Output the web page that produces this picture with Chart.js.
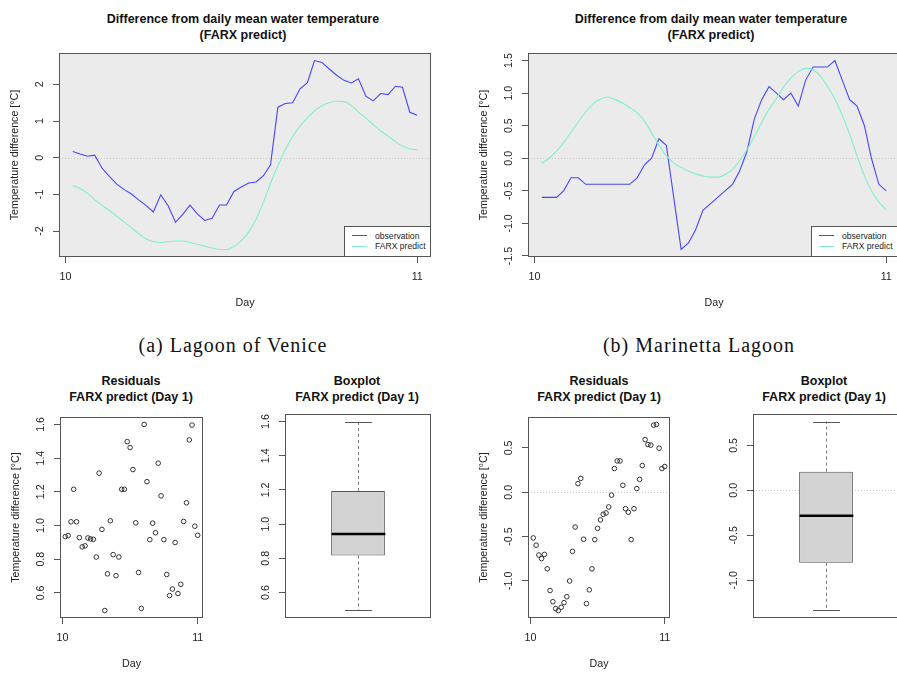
<!DOCTYPE html>
<html lang="en">

<head>
    <meta charset="UTF-8">
    <title>FARX predict - difference from daily mean water temperature</title>
    <script src="https://cdn.jsdelivr.net/npm/chart.js"></script>
    <style>
        body {
            margin: 0;
            background: #fff;
            font-family: 'Liberation Sans', Arial, sans-serif;
        }

        #page {
            position: relative;
            width: 897px;
            height: 673px;
            overflow: hidden;
        }

        canvas {
            position: absolute;
        }

        .title {
            position: absolute;
            width: 300px;
            text-align: center;
            font-weight: bold;
            font-size: 12.5px;
            line-height: 15.6px;
            color: #111;
        }

        .caption {
            position: absolute;
            width: 300px;
            text-align: center;
            font-family: 'Liberation Serif', serif;
            font-size: 20px;
            letter-spacing: 1px;
            line-height: 24px;
            color: #111;
        }

        .legend {
            position: absolute;
            box-sizing: border-box;
            background: #fff;
            border-left: 1px solid #555;
            border-top: 1px solid #555;
            padding: 3.5px 0 0 7px;
            font-size: 8.6px;
            color: #222;
        }

        .key {
            display: flex;
            align-items: center;
            height: 10.5px;
            white-space: nowrap;
        }

        .swatch {
            display: inline-block;
            width: 15px;
            height: 0;
            border-top: 1.1px solid;
            margin-right: 8px;
        }
    </style>
</head>

<body>
    <div id="page">
        <div class="title" style="left:93px; top:12px">Difference from daily mean water temperature<br>(FARX predict)</div>
        <div class="title" style="left:561px; top:12px">Difference from daily mean water temperature<br>(FARX predict)</div>

        <canvas id="veniceLine" width="441" height="266" style="left:0; top:51px"></canvas>
        <canvas id="marinettaLine" width="441" height="266" style="left:469px; top:51px"></canvas>

        <div class="legend" style="left:344px; top:226px; width:86px; height:30px">
            <div class="key"><span class="swatch" style="border-color:#4646ff"></span>observation</div>
            <div class="key"><span class="swatch" style="border-color:#7ff0cc"></span>FARX predict</div>
        </div>
        <div class="legend" style="left:811px; top:226px; width:90px; height:30px">
            <div class="key"><span class="swatch" style="border-color:#4646ff"></span>observation</div>
            <div class="key"><span class="swatch" style="border-color:#7ff0cc"></span>FARX predict</div>
        </div>

        <div class="caption" style="left:83px; top:333px">(a) Lagoon of Venice</div>
        <div class="caption" style="left:549px; top:333px">(b) Marinetta Lagoon</div>

        <div class="title" style="left:-19px; top:374px">Residuals<br>FARX predict (Day 1)</div>
        <div class="title" style="left:207px; top:374px">Boxplot<br>FARX predict (Day 1)</div>
        <div class="title" style="left:449px; top:374px">Residuals<br>FARX predict (Day 1)</div>
        <div class="title" style="left:674px; top:374px">Boxplot<br>FARX predict (Day 1)</div>

        <canvas id="veniceResid" width="212" height="266" style="left:1px; top:412px"></canvas>
        <canvas id="veniceBox" width="215" height="208" style="left:226px; top:412px"></canvas>
        <canvas id="marinettaResid" width="211" height="266" style="left:469px; top:412px"></canvas>
        <canvas id="marinettaBox" width="215" height="208" style="left:694px; top:412px"></canvas>
    </div>

    <script>
        // time of day (half-hour steps of day 10)
        const dayTimes = [10.021, 10.042, 10.063, 10.083, 10.104, 10.125, 10.146, 10.167, 10.188, 10.208,
            10.229, 10.25, 10.271, 10.292, 10.313, 10.333, 10.354, 10.375, 10.396, 10.417,
            10.438, 10.458, 10.479, 10.5, 10.521, 10.542, 10.563, 10.583, 10.604, 10.625,
            10.646, 10.667, 10.688, 10.708, 10.729, 10.75, 10.771, 10.792, 10.813, 10.833,
            10.854, 10.875, 10.896, 10.917, 10.938, 10.958, 10.979, 11.0];
        const dayTicks = [10, 11];

        // Lagoon of Venice
        const veniceObs = [0.17, 0.10, 0.04, 0.07, -0.28, -0.51, -0.72, -0.87, -0.99, -1.15,
            -1.30, -1.48, -1.01, -1.31, -1.76, -1.55, -1.29, -1.53, -1.71, -1.65,
            -1.29, -1.29, -0.92, -0.80, -0.69, -0.66, -0.49, -0.19, 1.38, 1.48,
            1.50, 1.88, 2.05, 2.65, 2.60, 2.42, 2.25, 2.11, 2.04, 2.15,
            1.68, 1.55, 1.75, 1.72, 1.95, 1.92, 1.24, 1.16];
        const veniceFarx = [-0.76, -0.84, -0.97, -1.14, -1.30, -1.44, -1.59, -1.75, -1.91, -2.07,
            -2.21, -2.29, -2.31, -2.29, -2.27, -2.27, -2.31, -2.36, -2.41, -2.46,
            -2.50, -2.50, -2.42, -2.26, -2.02, -1.68, -1.21, -0.70, -0.22, 0.22,
            0.58, 0.87, 1.09, 1.28, 1.42, 1.50, 1.54, 1.53, 1.42, 1.25,
            1.08, 0.90, 0.73, 0.59, 0.44, 0.32, 0.24, 0.22];
        const veniceResid = [0.934, 0.940, 1.022, 1.215, 1.022, 0.928, 0.873, 0.879, 0.926, 0.920,
            0.918, 0.813, 1.311, 0.977, 0.495, 0.713, 1.028, 0.827, 0.702, 0.813,
            1.215, 1.215, 1.498, 1.463, 1.332, 1.016, 0.721, 0.508, 1.600, 1.260,
            0.916, 1.014, 0.957, 1.370, 1.176, 0.916, 0.709, 0.584, 0.623, 0.899,
            0.596, 0.651, 1.024, 1.135, 1.508, 1.596, 0.996, 0.942];
        // min, lower hinge, median, upper hinge, max
        const veniceBox = [0.495, 0.817, 0.942, 1.194, 1.600];
        const veniceLineTicks = [-2, -1, 0, 1, 2];
        const veniceResidTicks = [0.6, 0.8, 1.0, 1.2, 1.4, 1.6];

        // Marinetta Lagoon
        const marinettaObs = [-0.60, -0.60, -0.60, -0.50, -0.30, -0.30, -0.40, -0.40, -0.40, -0.40,
            -0.40, -0.40, -0.40, -0.30, -0.10, 0.00, 0.30, 0.20, -0.60, -1.40,
            -1.30, -1.10, -0.80, -0.70, -0.60, -0.50, -0.40, -0.20, 0.10, 0.60,
            0.90, 1.10, 1.00, 0.90, 1.00, 0.80, 1.20, 1.40, 1.40, 1.40,
            1.50, 1.20, 0.90, 0.80, 0.50, 0.00, -0.40, -0.50];
        const marinettaFarx = [-0.08, 0.00, 0.11, 0.24, 0.40, 0.56, 0.71, 0.84, 0.91, 0.94,
            0.90, 0.85, 0.78, 0.70, 0.57, 0.39, 0.20, 0.04, -0.07, -0.14,
            -0.20, -0.24, -0.27, -0.29, -0.29, -0.25, -0.17, -0.04, 0.13, 0.33,
            0.55, 0.75, 0.92, 1.09, 1.23, 1.33, 1.38, 1.36, 1.26, 1.10,
            0.91, 0.66, 0.37, 0.04, -0.27, -0.50, -0.67, -0.79];
        const marinettaResid = [-0.516, -0.598, -0.709, -0.750, -0.702, -0.865, -1.110, -1.236, -1.314, -1.336,
            -1.299, -1.247, -1.180, -1.002, -0.668, -0.393, 0.097, 0.156, -0.531, -1.258,
            -1.102, -0.865, -0.535, -0.408, -0.312, -0.249, -0.234, -0.167, -0.033, 0.267,
            0.353, 0.353, 0.078, -0.186, -0.226, -0.535, -0.186, 0.041, 0.145, 0.301,
            0.594, 0.538, 0.531, 0.757, 0.765, 0.497, 0.267, 0.290];
        const marinettaBox = [-1.336, -0.806, -0.282, 0.208, 0.765];
        const marinettaLineTicks = [-1.5, -1.0, -0.5, 0, 0.5, 1.0, 1.5];
        const marinettaResidTicks = [-1.0, -0.5, 0, 0.5];

        const OBS_COLOR = '#4646ff';
        const FARX_COLOR = '#7ff0cc';
        const FONT = "'Liberation Sans', Arial, sans-serif";

        Chart.defaults.font.family = FONT;
        Chart.defaults.font.size = 10.7;
        Chart.defaults.color = '#222';

        // R style axis range: data range plus 4% each side
        function rRange(values) {
            const lo = Math.min(...values), hi = Math.max(...values);
            const pad = (hi - lo) * 0.04;
            return [lo - pad, hi + pad];
        }

        // panel background, dotted zero line, box and rotated y tick labels
        const rPlot = {
            id: 'rPlot',
            beforeDraw(chart, args, opts) {
                if (!opts.fill) return;
                const a = chart.chartArea, ctx = chart.ctx;
                ctx.save();
                ctx.fillStyle = opts.fill;
                ctx.fillRect(a.left, a.top, a.right - a.left, a.bottom - a.top);
                ctx.restore();
            },
            beforeDatasetsDraw(chart, args, opts) {
                if (!opts.zeroLine) return;
                const a = chart.chartArea, ctx = chart.ctx;
                const y = Math.round(chart.scales.y.getPixelForValue(0)) + 0.5;
                ctx.save();
                ctx.strokeStyle = '#c8c8c8';
                ctx.lineWidth = 1;
                ctx.setLineDash([1, 2]);
                ctx.beginPath();
                ctx.moveTo(a.left, y);
                ctx.lineTo(a.right, y);
                ctx.stroke();
                ctx.restore();
            },
            afterDraw(chart, args, opts) {
                if (opts.digits === undefined) return;
                const a = chart.chartArea, ctx = chart.ctx, ys = chart.scales.y;
                ctx.save();
                ctx.strokeStyle = '#555';
                ctx.lineWidth = 1;
                ctx.strokeRect(Math.round(a.left) + 0.5, Math.round(a.top) + 0.5,
                    Math.round(a.right - a.left) - 1, Math.round(a.bottom - a.top) - 1);
                ctx.fillStyle = '#222';
                ctx.font = '10.7px ' + FONT;
                ctx.textAlign = 'center';
                ctx.textBaseline = 'middle';
                ys.ticks.forEach(t => {
                    ctx.save();
                    ctx.translate(a.left - 18.5, ys.getPixelForValue(t.value));
                    ctx.rotate(-Math.PI / 2);
                    ctx.fillText(t.value.toFixed(opts.digits), 0, 0);
                    ctx.restore();
                });
                ctx.restore();
            }
        };

        // median line, whiskers and staples on top of the floating bar
        const boxWhiskers = {
            id: 'boxWhiskers',
            afterDatasetsDraw(chart, args, opts) {
                if (!opts.stats) return;
                const [lo, q1, med, q3, hi] = opts.stats;
                const bar = chart.getDatasetMeta(0).data[0];
                const ys = chart.scales.y, ctx = chart.ctx;
                const x = Math.round(bar.x) + 0.5, half = bar.width / 2;
                const line = (x1, y1, x2, y2) => {
                    ctx.beginPath();
                    ctx.moveTo(x1, y1);
                    ctx.lineTo(x2, y2);
                    ctx.stroke();
                };
                ctx.save();
                ctx.lineWidth = 1;
                ctx.strokeStyle = '#777';
                ctx.setLineDash([3, 3]);
                line(x, ys.getPixelForValue(q3), x, ys.getPixelForValue(hi));
                line(x, ys.getPixelForValue(q1), x, ys.getPixelForValue(lo));
                ctx.setLineDash([]);
                ctx.strokeStyle = '#555';
                const yHi = Math.round(ys.getPixelForValue(hi)) + 0.5;
                const yLo = Math.round(ys.getPixelForValue(lo)) + 0.5;
                line(x - half / 2, yHi, x + half / 2, yHi);
                line(x - half / 2, yLo, x + half / 2, yLo);
                ctx.strokeStyle = '#000';
                ctx.lineWidth = 2.6;
                const yMed = ys.getPixelForValue(med);
                line(x - half, yMed, x + half, yMed);
                ctx.restore();
            }
        };

        Chart.register(rPlot, boxWhiskers);

        function yAxis(range, tickValues, withTitle) {
            return {
                type: 'linear',
                min: range[0],
                max: range[1],
                afterBuildTicks: s => { s.ticks = tickValues.map(v => ({ value: v })); },
                afterFit: s => { s.width = 59; },
                grid: { drawOnChartArea: false, drawTicks: true, tickLength: 6, color: '#555' },
                border: { display: false },
                ticks: { display: false },
                title: {
                    display: withTitle,
                    text: 'Temperature difference [°C]',
                    color: '#222',
                    padding: { top: 8.6, bottom: 0 }
                }
            };
        }

        function dayAxis() {
            const r = rRange(dayTimes);
            return {
                type: 'linear',
                min: r[0],
                max: r[1],
                afterBuildTicks: s => { s.ticks = dayTicks.map(v => ({ value: v })); },
                afterFit: s => { s.height = 60; },
                grid: { drawOnChartArea: false, drawTicks: true, tickLength: 6, color: '#555' },
                border: { display: false },
                ticks: { padding: 7.5, color: '#222', maxRotation: 0, callback: v => String(v) },
                title: { display: true, text: 'Day', color: '#222', padding: { top: 0, bottom: 8 } }
            };
        }

        function commonOptions(bottomPad) {
            return {
                responsive: false,
                animation: false,
                events: [],
                layout: { padding: { top: 2, right: 10, bottom: bottomPad, left: 0 } }
            };
        }

        function lineChart(id, obs, farx, ticks, digits) {
            new Chart(document.getElementById(id), {
                type: 'line',
                data: {
                    datasets: [
                        {
                            label: 'observation',
                            data: dayTimes.map((d, i) => ({ x: d, y: obs[i] })),
                            borderColor: OBS_COLOR,
                            borderWidth: 1.1,
                            pointRadius: 0,
                            tension: 0,
                            order: 1
                        },
                        {
                            label: 'FARX predict',
                            data: dayTimes.map((d, i) => ({ x: d, y: farx[i] })),
                            borderColor: FARX_COLOR,
                            borderWidth: 1.1,
                            pointRadius: 0,
                            cubicInterpolationMode: 'monotone',
                            order: 0
                        }
                    ]
                },
                options: {
                    ...commonOptions(0),
                    scales: { x: dayAxis(), y: yAxis(rRange(obs.concat(farx)), ticks, true) },
                    plugins: {
                        legend: { display: false },
                        tooltip: { enabled: false },
                        rPlot: { fill: '#ebebeb', zeroLine: true, digits: digits }
                    }
                }
            });
        }

        function residualChart(id, resid, ticks, digits, zeroLine) {
            new Chart(document.getElementById(id), {
                type: 'scatter',
                data: {
                    datasets: [{
                        label: 'residuals',
                        data: dayTimes.map((d, i) => ({ x: d, y: resid[i] })),
                        pointStyle: 'circle',
                        pointRadius: 2.3,
                        pointBorderWidth: 1,
                        pointBorderColor: '#333',
                        pointBackgroundColor: 'rgba(0,0,0,0)'
                    }]
                },
                options: {
                    ...commonOptions(0),
                    scales: { x: dayAxis(), y: yAxis(rRange(resid), ticks, true) },
                    plugins: {
                        legend: { display: false },
                        tooltip: { enabled: false },
                        rPlot: { zeroLine: zeroLine, digits: digits }
                    }
                }
            });
        }

        function boxChart(id, stats, ticks, digits, zeroLine) {
            new Chart(document.getElementById(id), {
                type: 'bar',
                data: {
                    labels: [''],
                    datasets: [{
                        label: 'boxplot',
                        data: [[stats[1], stats[3]]],
                        backgroundColor: '#d3d3d3',
                        borderColor: '#555',
                        borderWidth: 1,
                        borderSkipped: false,
                        barPercentage: 0.368,
                        categoryPercentage: 1
                    }]
                },
                options: {
                    ...commonOptions(2),
                    scales: {
                        x: { type: 'category', display: false },
                        y: yAxis(rRange(stats), ticks, false)
                    },
                    plugins: {
                        legend: { display: false },
                        tooltip: { enabled: false },
                        rPlot: { zeroLine: zeroLine, digits: digits },
                        boxWhiskers: { stats: stats }
                    }
                }
            });
        }

        lineChart('veniceLine', veniceObs, veniceFarx, veniceLineTicks, 0);
        lineChart('marinettaLine', marinettaObs, marinettaFarx, marinettaLineTicks, 1);
        residualChart('veniceResid', veniceResid, veniceResidTicks, 1, false);
        boxChart('veniceBox', veniceBox, veniceResidTicks, 1, false);
        residualChart('marinettaResid', marinettaResid, marinettaResidTicks, 1, true);
        boxChart('marinettaBox', marinettaBox, marinettaResidTicks, 1, true);
    </script>
</body>

</html>
